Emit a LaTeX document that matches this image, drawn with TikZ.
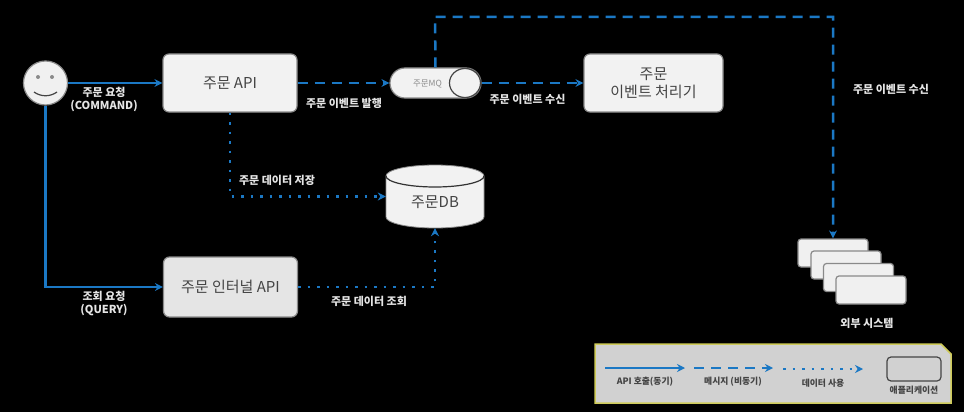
\documentclass[tikz,border=0pt]{standalone}
\usepackage{fontspec}
\setmainfont{Noto Sans CJK KR}
\usepackage{xcolor}
\usetikzlibrary{arrows.meta,positioning,shapes.geometric}
\definecolor{flowblue}{HTML}{1B78C4}
\definecolor{boxgrey}{HTML}{8A8A8A}
\definecolor{inktext}{HTML}{444444}
\definecolor{keyedge}{HTML}{CFCB5A}

\begin{document}
\begin{tikzpicture}[x=1pt,y=-1pt,
  bx/.style={draw=boxgrey,line width=1.2pt,rounded corners=6pt,align=center,font=\fontsize{15}{18}\selectfont,text=inktext,
    minimum width=134pt,minimum height=58pt,fill=#1},
  bx/.default={white!95!black},
  extbx/.style={draw=boxgrey,line width=1.2pt,rounded corners=3pt,fill=white!94!black,minimum width=70pt,minimum height=28pt},
  lbl/.style={font=\bfseries\fontsize{11}{13}\selectfont,text=white!90!black,align=center},
  keylbl/.style={font=\bfseries\fontsize{8.8}{11}\selectfont,text=inktext,align=center},
  api/.style={-{Stealth[length=8pt,width=8pt]},flowblue,line width=2.5pt},
  msg/.style={-{Stealth[length=8pt,width=8pt]},flowblue,line width=2.5pt,dash pattern=on 10pt off 7pt},
  dat/.style={-{Stealth[length=8pt,width=8pt]},flowblue,line width=2.5pt,dash pattern=on 2.5pt off 7pt}]
  \useasboundingbox[fill=black] (0,0) rectangle (964,412);
  % user
  \node[circle,draw=boxgrey,line width=1.2pt,fill=white!94!black,minimum size=44pt,inner sep=0pt] (user) at (45.5,83) {};
  \fill[boxgrey] (38,77) circle (2pt) (52,77) circle (2pt);
  \draw[inktext,line width=1.2pt] (34,92) .. controls (41,97) and (50,97) .. (57,92);
  % boxes
  \node[bx] (api) at (230,83) {주문 API};
  \node[bx,minimum width=139pt] (handler) at (653.5,83) {주문\\이벤트 처리기};
  \node[bx=white!90!black,minimum height=60pt] (internal) at (230.5,287) {주문 인터널 API};
  % db
  \filldraw[draw=boxgrey,line width=0.8pt,fill=white!95!black] (386,176) arc[start angle=180,end angle=0,x radius=49pt,y radius=11pt]
    -- (484,217) arc[start angle=0,end angle=-180,x radius=49pt,y radius=11pt] -- cycle;
  \draw[black!80,line width=1.2pt] (386,176) arc[start angle=180,end angle=360,x radius=49pt,y radius=11pt];
  \node[minimum width=98pt,minimum height=63pt,inner sep=0pt] (db) at (435,196.5) {};
  \node[font=\fontsize{15}{18}\selectfont,text=inktext] (dbname) at (435,202) {주문DB};
  % mq
  \node[rounded corners=15pt,draw=boxgrey,fill=white!95!black,line width=1.2pt,
    minimum width=91pt,minimum height=30pt] (mq) at (435.5,83) {};
  \node[ellipse,draw=inktext,line width=1.2pt,fill=white!95!black,minimum width=31pt,minimum height=29pt,inner sep=0pt] (mqend) at (465,83) {};
  \node[font=\fontsize{8.5}{10}\selectfont,text=boxgrey] (mqname) at (427.5,84) {주문MQ};
  % external systems
  \node[extbx] (extA) at (833,253) {};
  \node[extbx] (extB) at (846,265) {};
  \node[extbx] (extC) at (858.5,277.5) {};
  \node[extbx] (extD) at (871,290) {};
  \node[lbl] (extname) at (867,323.5) {외부 시스템};
  % flows
  \coordinate (turn) at (435,17);
  \draw[api] (user) -- (api);
  \draw[api] (user.south) |- (internal.west);
  \draw[msg] (api) -- (mq);
  \draw[msg] (mq) -- (handler);
  \draw[msg] (mq.north) -- (turn) -| (extA.north);
  \draw[dat] (api.south) |- (db.west);
  \draw[dat] (internal.east) -| (db.south);
  % flow labels
  \node[lbl] (cmd) at (104,99.5) {주문 요청\\(COMMAND)};
  \node[lbl] (qry) at (104,303.5) {조회 요청\\(QUERY)};
  \node[lbl] (pub) at (344,103) {주문 이벤트 발행};
  \node[lbl] (sub) at (527.5,99) {주문 이벤트 수신};
  \node[lbl] (subext) at (891,89) {주문 이벤트 수신};
  \node[lbl] (save) at (277,180) {주문 데이터 저장};
  \node[lbl] (read) at (369,301) {주문 데이터 조회};
  % legend
  \filldraw[draw=keyedge,line width=1.5pt,fill=white!82!black] (595,344) -- (941,344) -- (951,354) -- (951,403) -- (595,403) -- cycle;
  \coordinate (keyA) at (605,368);
  \coordinate (keyB) at (685,368);
  \coordinate (keyC) at (694,368);
  \coordinate (keyD) at (773,368);
  \coordinate (keyE) at (783,369);
  \coordinate (keyF) at (863,369);
  \draw[api,line width=1.5pt] (keyA) -- (keyB);
  \draw[msg,line width=1.5pt] (keyC) -- (keyD);
  \draw[dat,line width=1.5pt] (keyE) -- (keyF);
  \node[keylbl] (keyapi) at (645,382) {API 호출(동기)};
  \node[keylbl] (keymsg) at (733,382) {메시지 (비동기)};
  \node[keylbl] (keydat) at (823,383.5) {데이터 사용};
  \node[draw=inktext,line width=1.2pt,rounded corners=4pt,minimum width=54pt,minimum height=24pt] (keyapp) at (914,369) {};
  \node[keylbl] (keyappname) at (914,390) {애플리케이션};
\end{tikzpicture}
\end{document}
